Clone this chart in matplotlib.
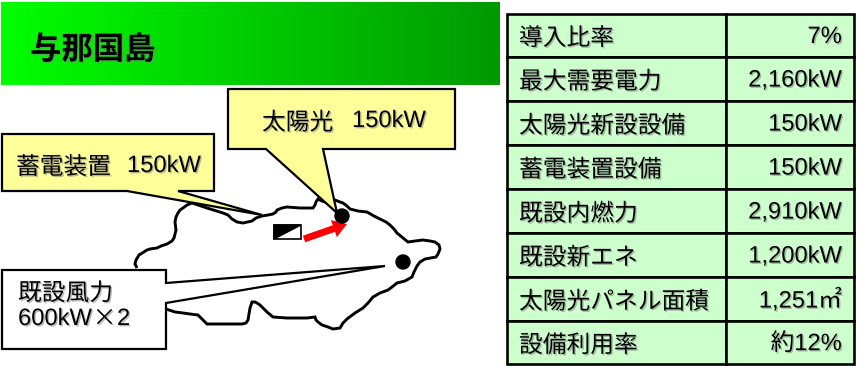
import numpy as np
import matplotlib
matplotlib.use("Agg")
import matplotlib.pyplot as plt
import matplotlib.patheffects as pe
from matplotlib.patches import Rectangle, Polygon, Circle

plt.rcParams['font.family'] = ['Liberation Sans', 'Noto Sans CJK JP', 'DejaVu Sans']

# table contents
row_labels = ["導入比率", "最大需要電力", "太陽光新設設備", "蓄電装置設備",
              "既設内燃力", "既設新エネ", "太陽光パネル面積", "設備利用率"]
row_values = ["7%", "2,160kW", "150kW", "150kW", "2,910kW", "1,200kW", "1,251㎡", "約12%"]
row_lines = [14, 57, 101, 145, 189, 233, 277, 321, 364]

title = "与那国島"
solar_name = "太陽光"
battery_name = "蓄電装置"
capacity = "150kW"
wind_name = "既設風力"
wind_size = "600kW"
wind_count = "2"

# island outline, in image pixels
coast_x = [137, 135, 136, 139, 147, 150, 157, 161, 167, 172, 174, 176, 175, 176, 178, 180, 183,
           187, 192, 207, 223, 228, 232, 237, 243, 252, 256, 262, 268, 273, 276, 277, 282, 287,
           300, 313, 315, 316, 318, 322, 328, 331, 335, 340, 343, 347, 350, 358, 367, 374, 380,
           386, 390, 394, 397, 403, 408, 415, 423, 430, 435, 439, 440, 438, 436, 425, 420, 417,
           414, 412, 405, 397, 392, 388, 380, 373, 368, 363, 355, 347, 343, 340, 333, 328, 322,
           318, 316, 315, 307, 300, 287, 273, 267, 263, 260, 257, 255, 252, 250, 248, 246, 242,
           225, 207, 203, 198, 190, 183, 175, 166]
coast_y = [268, 264, 260, 255, 250, 249, 248, 246, 244, 241, 238, 230, 222, 217, 213, 210, 208,
           205, 203, 208, 213, 215, 219, 222, 223, 221, 218, 216, 215, 214, 212, 210, 208, 207,
           208, 208, 205, 202, 199, 201, 203, 202, 200, 202, 203, 206, 209, 211, 212, 216, 219,
           222, 225, 229, 233, 238, 242, 241, 240, 241, 242, 245, 249, 254, 257, 259, 262, 266,
           272, 277, 281, 283, 287, 290, 293, 297, 303, 308, 313, 319, 323, 328, 329, 327, 325,
           322, 320, 317, 318, 318, 318, 317, 312, 308, 305, 303, 302, 302, 308, 320, 323, 324,
           324, 324, 320, 315, 314, 313, 312, 309]

def shadow():
    return [pe.withSimplePatchShadow(offset=(1, -1), shadow_rgbFace='#808080', alpha=0.55)]

def label(ax, x, y, s, size=17.1, ha='left', weight='normal', zorder=6):
    ax.text(x, y, s, fontsize=size, ha=ha, va='center', weight=weight, color='black',
            zorder=zorder, path_effects=shadow())

fig = plt.figure(figsize=(8.66, 3.66), dpi=100)
ax = fig.add_axes([0, 0, 1, 1])
ax.axis('off')

# banner with green gradient
gradient = np.zeros((2, 256, 3))
gradient[:, :, 1] = np.linspace(1.0, 0.6, 256)
ax.imshow(gradient, extent=(1, 500, 85, 2), aspect='auto', zorder=1)
ax.set_xlim(0, 866)
ax.set_ylim(366, 0)
label(ax, 30, 51, title, size=22.6, weight='bold')

# island
ax.add_patch(Polygon(np.column_stack([coast_x, coast_y]), closed=False, fill=False,
                     edgecolor='black', lw=2.1, zorder=2))
ax.add_patch(Circle((342, 216), 7, color='black', zorder=5))
ax.add_patch(Circle((403, 262), 7, color='black', zorder=3))

# battery symbol
ax.add_patch(Rectangle((274, 225), 27, 14, facecolor='white', edgecolor='black', lw=1.2, zorder=3))
ax.add_patch(Polygon([(274, 225), (301, 225), (274, 239)], color='black', zorder=3))
ax.annotate("", xy=(347, 224), xytext=(304, 239), zorder=4,
            arrowprops=dict(arrowstyle='simple,head_width=1.3,head_length=1.0,tail_width=0.5',
                            color='#ff0000', lw=0, shrinkA=0, shrinkB=0))

# callouts
solar_box = [(228, 89), (455, 89), (455, 149), (323, 149), (337, 213), (266, 149), (228, 149)]
battery_box = [(2, 134), (214, 134), (214, 191), (178, 191), (262, 215), (127, 191), (2, 191)]
wind_box = [(2, 270), (166, 270), (166, 283), (385, 266), (166, 303), (166, 349), (2, 349)]
ax.add_patch(Polygon(battery_box, facecolor='#ffff99', edgecolor='black', lw=1.6, zorder=4))
ax.add_patch(Polygon(solar_box, facecolor='#ffff99', edgecolor='black', lw=1.6, zorder=4))
ax.add_patch(Polygon(wind_box, facecolor='white', edgecolor='black', lw=1.6, zorder=4))
label(ax, 262, 123.5, solar_name)
label(ax, 352, 121, capacity)
label(ax, 16, 168, battery_name)
label(ax, 127, 166, capacity)
label(ax, 18, 294, wind_name)
label(ax, 18, 319, wind_size)
ax.text(104.5, 319, "×", fontsize=17.1, family='Noto Sans CJK JP', ha='center', va='center',
        zorder=6, path_effects=shadow())
label(ax, 117, 319, wind_count)

# table on the right
left, mid, right = 507, 726, 854
for i in range(len(row_labels)):
    top, bottom = row_lines[i], row_lines[i + 1]
    ax.add_patch(Rectangle((left, top), mid - left, bottom - top, facecolor='#ccffcc',
                           edgecolor='black', lw=1.9, zorder=2))
    ax.add_patch(Rectangle((mid, top), right - mid, bottom - top, facecolor='#ccffcc',
                           edgecolor='black', lw=1.9, zorder=2))
    label(ax, 519, (top + bottom) / 2 + 3.5, row_labels[i])
    label(ax, 842, (top + bottom) / 2 + 1.5, row_values[i], ha='right')

fig.savefig("out.png", dpi=100)
